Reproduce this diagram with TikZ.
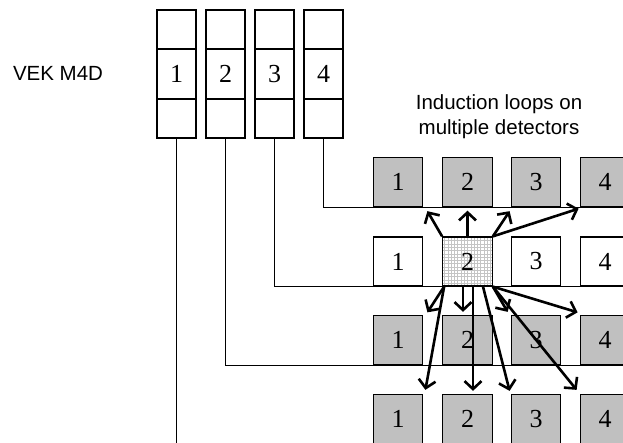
\documentclass[tikz,border=0pt]{standalone}
\usepackage{fontspec}
\setmainfont{Liberation Serif}
\newfontfamily\arialf{Liberation Sans}
\usetikzlibrary{arrows.meta,calc}
\definecolor{boxgray}{HTML}{C0C0C0}
\definecolor{gridgray}{HTML}{C4C4C4}
\begin{document}
\begin{tikzpicture}[x=1pt,y=-1pt,
  cellv/.style={draw, line width=1.3pt, minimum width=39pt, inner sep=0pt, font=\fontsize{26}{26}\selectfont},
  gbox/.style={draw, line width=1.3pt, minimum width=49.5pt, minimum height=49pt, inner sep=0pt, font=\fontsize{26}{26}\selectfont},
  filled/.style={fill=boxgray},
  wire/.style={line width=1.3pt},
  arr/.style={line width=2.6pt, -{Straight Barb[length=8pt,width=17pt]}},
  lbl/.style={font=\arialf\fontsize{20.5}{24.5}\selectfont, inner sep=0pt}]
\useasboundingbox (0,0) rectangle (623,442);
\clip (0,0) rectangle (623,442);
\coordinate (bot) at (0,450);

% VEK M4D detector columns
\foreach \i/\x in {1/176.5,2/225.5,3/274.5,4/323.5} {
  \node[cellv, minimum height=39pt] (t\i) at (\x,29.5) {};
  \node[cellv, minimum height=50pt] (v\i) at (\x,74) {\i};
  \node[cellv, minimum height=39pt] (b\i) at (\x,118.5) {};
}

% loop boxes
\foreach \c/\x in {1/398,2/467.5,3/536,4/605} {
  \node[gbox, filled] (r1c\c) at (\x,182) {\c};
  \node[gbox, filled] (r3c\c) at (\x,340) {\c};
  \node[gbox, filled] (r4c\c) at (\x,419) {\c};
}
\node[gbox, fill=white] (r2c1) at (398,261.5) {1};
\node[gbox, fill=white, path picture={\draw[gridgray, line width=0.5pt, step=3.27pt] (path picture bounding box.south west) grid (path picture bounding box.north east);}] (r2c2) at (467.5,261.5) {2};
\node[gbox, fill=white] (r2c3) at (536,261.5) {3};
\node[gbox, fill=white] (r2c4) at (605,261.5) {4};

% wires
\draw[wire] (b1.south) -- (b1.south |- bot);
\draw[wire] (b2.south) |- (r3c4.south east);
\draw[wire] (b3.south) |- (r2c4.south east);
\draw[wire] (b4.south) |- (r1c4.south east);

% arrows up
\draw[arr] (r2c2.north west) -- ($(r1c1.south east)+(4,4)$);
\draw[arr] (r2c2.north) -- ($(r1c2.south)+(0,3.5)$);
\draw[arr] (r2c2.north east) -- ($(r1c3.south west)+(-1,4)$);
\draw[arr] (r2c2.north east) -- ($(r1c4.south west)+(-1,1.5)$);

% arrows down
\draw[arr] ($(r2c2.south west)+(2,0)$) -- ($(r3c1.north east)+(4,-2.5)$);
\draw[arr] ($(r2c2.south west)+(2,0)$) -- ($(r4c1.north east)+(2,-4)$);
\draw[arr] ($(r2c2.south)+(-4.5,0)$) -- ($(r3c2.north)+(-4.5,-3)$);
\draw[arr] ($(r2c2.south)+(5.5,0)$) -- ($(r4c2.north)+(5.5,-3)$);
\draw[arr] ($(r2c2.south)+(15.5,0)$) -- ($(r4c3.north west)+(-1,-3)$);
\draw[arr] (r2c2.south east) -- ($(r3c3.north west)+(-3,-3)$);
\draw[arr] (r2c2.south east) -- ($(r3c4.north west)+(-2,-2.5)$);
\draw[arr] (r2c2.south east) -- ($(r4c4.north west)+(-3,-4)$);

% labels
\node[lbl, anchor=base] (vek) at (58,80) {VEK M4D};
\node[lbl, anchor=north, align=center] (ind) at (499,94.5) {Induction loops on\\multiple detectors};
\end{tikzpicture}
\end{document}
